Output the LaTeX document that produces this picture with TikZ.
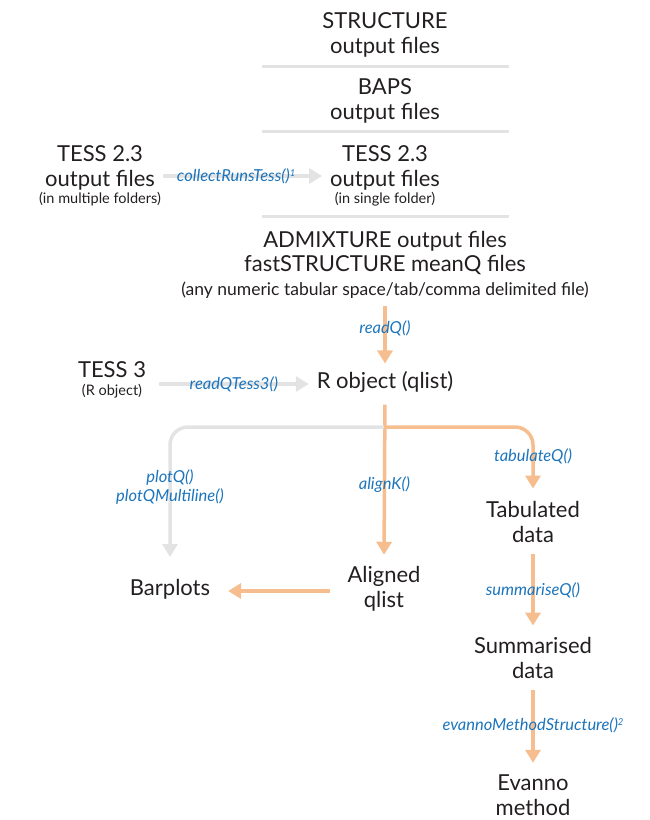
\documentclass[tikz,border=0pt]{standalone}
\usepackage{fontspec}
\setmainfont{Lato}
\usetikzlibrary{arrows.meta}
\definecolor{flowgrey}{RGB}{227, 227, 227}
\definecolor{floworange}{RGB}{246, 190, 143}
\definecolor{fnblue}{RGB}{28, 117, 188}
\definecolor{inkblack}{RGB}{35, 31, 32}
\newcommand{\fnmark}[1]{\raisebox{5pt}{\fontsize{9.5}{10}\selectfont #1}}
\tikzstyle{title} = [
  align=center,
  inner sep=0pt,
  outer sep=8pt,
  text=inkblack,
  font=\fontsize{22}{24.5}\selectfont,
]
\tikzstyle{note} = [
  inner sep=0pt,
  text=inkblack,
  font=\fontsize{14.5}{16}\selectfont,
]
\tikzstyle{fn} = [
  align=center,
  inner sep=0pt,
  text=fnblue,
  font=\fontsize{16.5}{18.5}\selectfont\itshape,
]
\tikzstyle{divider} = [line width=3pt, draw=flowgrey]
\tikzstyle{greyflow} = [
  line width=3.5pt,
  draw=flowgrey,
  -{Triangle[width=15pt,length=13pt]},
]
\tikzstyle{orangeflow} = [
  line width=3.5pt,
  draw=floworange,
  -{Triangle[width=15pt,length=13pt]},
]

\begin{document}
\begin{tikzpicture}[x=1pt, y=-1pt]
            \useasboundingbox (0,0) rectangle (650,820);

            % Input files
            \node[title] (structure) at (385,35) {STRUCTURE\\output files};
            \node[title] (baps) at (385,101) {BAPS\\output files};
            \node[title] (tesssingle) at (385,168) {TESS 2.3\\output files};
            \node[note] (tesssinglenote) at (385,199) {(in single folder)};
            \node[title] (admix) at (385,253) {ADMIXTURE output files\\fastSTRUCTURE meanQ files};
            \node[note, outer sep=8pt, font=\fontsize{17.5}{19}\selectfont] (admixnote) at (385,290) {(any numeric tabular space/tab/comma delimited file)};
            \node[title] (tessmulti) at (100,168) {TESS 2.3\\output files};
            \node[note] (tessmultinote) at (100,199) {(in multiple folders)};
            \node[title] (tess3) at (112,370) {TESS 3};
            \node[note] (tess3note) at (112,391) {(R object)};

            % Dividers between the input files
            \draw[divider] (262,66) -- (509,66);
            \draw[divider] (262,131) -- (509,131);
            \draw[divider] (262,216) -- (509,216);

            % Results
            \node[title] (robj) at (385,382) {R object (qlist)};
            \node[title] (barplots) at (170,589) {Barplots};
            \node[title] (aligned) at (384,589) {Aligned\\qlist};
            \node[title] (tabulated) at (533,522) {Tabulated\\data};
            \node[title] (summarised) at (533,658) {Summarised\\data};
            \node[title] (evanno) at (533,795) {Evanno\\method};
            \coordinate (split) at (384,427);

            % Functions
            \draw[greyflow] ([yshift=-8pt]tessmulti.east) -- ([yshift=-8pt]tesssingle.west)
              node[fn, pos=0.46] (collect) {collectRunsTess()\fnmark{1}};
            \draw[orangeflow] (admixnote.south) -- (robj.north)
              node[fn, pos=0.38] (readq) {readQ()};
            \draw[greyflow] ([xshift=5pt, yshift=-2pt]tess3.east |- robj.east) -- ([yshift=-2pt]robj.west)
              node[fn, midway] (readqtess) {readQTess3()};
            \draw[orangeflow, shorten <=4pt, shorten >=4pt] (robj.south) -- (aligned.north)
              node[fn, pos=0.53] (alignk) {alignK()};
            \draw[greyflow, rounded corners=18pt] (split) -| ([yshift=14pt]barplots.north)
              node[fn, pos=0.73] (plotq) {plotQ()\\plotQMultiline()};
            \draw[orangeflow, rounded corners=18pt] (split) -| ([yshift=5pt]tabulated.north)
              node[fn, pos=0.74] (tabulateq) {tabulateQ()};
            \draw[orangeflow] ([yshift=-2pt, xshift=-10pt]aligned.west) -- ([yshift=-2pt, xshift=10pt]barplots.east);
            \draw[orangeflow, shorten <=4pt, shorten >=4pt] (tabulated.south) -- (summarised.north)
              node[fn, midway] (summariseq) {summariseQ()};
            \draw[orangeflow, shorten <=4pt, shorten >=4pt] (summarised.south) -- (evanno.north)
              node[fn, pos=0.48] (evannofn) {evannoMethodStructure()\fnmark{2}};
          \end{tikzpicture}
\end{document}
